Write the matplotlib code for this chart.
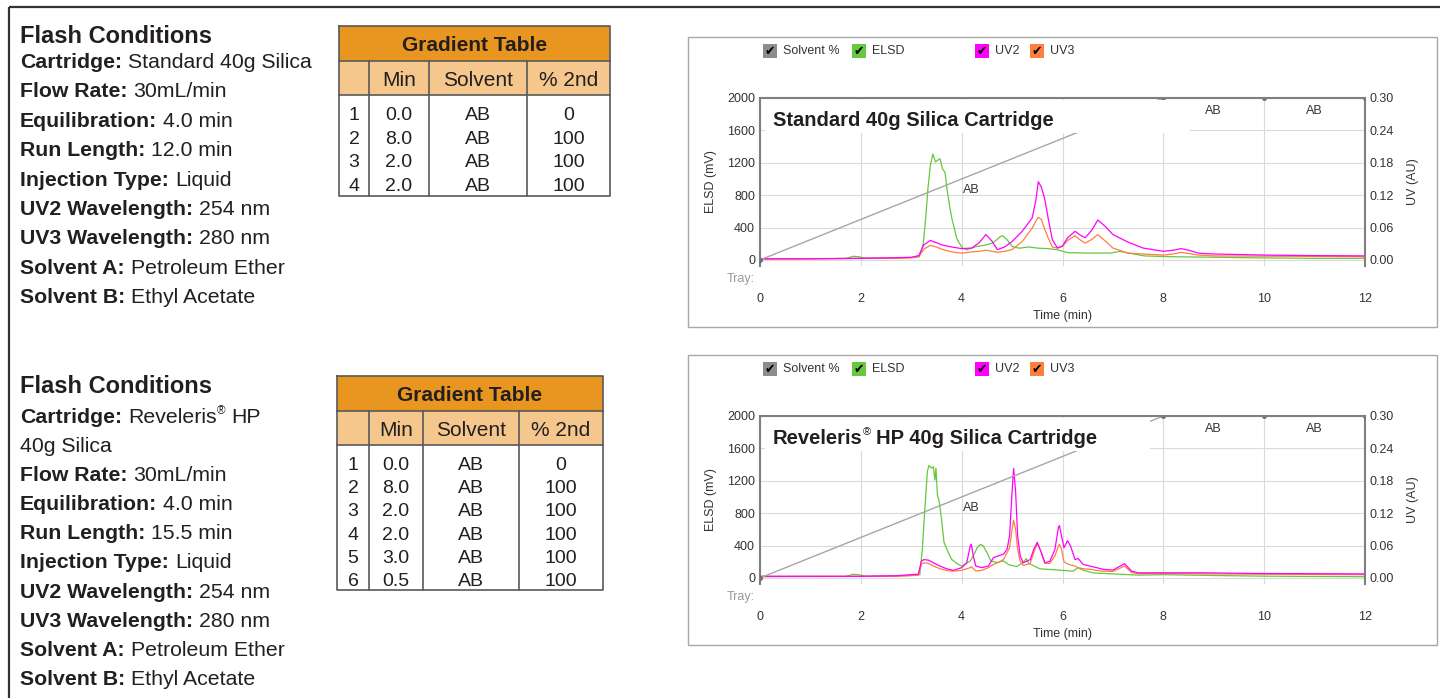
import matplotlib
matplotlib.use('Agg')
import matplotlib.pyplot as plt
from matplotlib.patches import Rectangle
import numpy as np

plt.rcParams['font.family'] = ['Liberation Sans', 'DejaVu Sans']

# ---- data ----
series_names = ['Solvent %', 'ELSD', 'UV2', 'UV3']
series_colors = ['#8c8c8c', '#66c83c', '#ff00ff', '#ff7f3f']

time_ticks = [0, 2, 4, 6, 8, 10, 12]
elsd_ticks = [0, 400, 800, 1200, 1600, 2000]
uv_ticks = [0.00, 0.06, 0.12, 0.18, 0.24, 0.30]

cond1 = [("Cartridge:", "Standard 40g Silica"), ("Flow Rate:", "30mL/min"),
         ("Equilibration:", "4.0 min"), ("Run Length:", "12.0 min"),
         ("Injection Type:", "Liquid"), ("UV2 Wavelength:", "254 nm"),
         ("UV3 Wavelength:", "280 nm"), ("Solvent A:", "Petroleum Ether"),
         ("Solvent B:", "Ethyl Acetate")]
cond2 = [("Cartridge:", "Reveleris® HP"), ("", "40g Silica"), ("Flow Rate:", "30mL/min"),
         ("Equilibration:", "4.0 min"), ("Run Length:", "15.5 min"),
         ("Injection Type:", "Liquid"), ("UV2 Wavelength:", "254 nm"),
         ("UV3 Wavelength:", "280 nm"), ("Solvent A:", "Petroleum Ether"),
         ("Solvent B:", "Ethyl Acetate")]

grad1_min = [0.0, 8.0, 2.0, 2.0]
grad1_solv = ['AB', 'AB', 'AB', 'AB']
grad1_pct = [0, 100, 100, 100]
grad2_min = [0.0, 8.0, 2.0, 2.0, 3.0, 0.5]
grad2_solv = ['AB', 'AB', 'AB', 'AB', 'AB', 'AB']
grad2_pct = [0, 100, 100, 100, 100, 100]

title1 = "Standard 40g Silica Cartridge"
title2 = "Reveleris® HP 40g Silica Cartridge"

# standard cartridge run
elsd1_t = [0, 1.7, 1.85, 1.95, 2.1, 2.6, 3.0, 3.16, 3.24, 3.29, 3.33, 3.38, 3.43, 3.48, 3.52, 3.57,
           3.62, 3.67, 3.71, 3.76, 3.81, 3.86, 3.9, 3.95, 4.02, 4.1, 4.29, 4.48, 4.62, 4.76, 4.81,
           4.9, 5.0, 5.14, 5.33, 5.52, 5.71, 5.9, 6.1, 6.48, 6.95, 7.14, 7.62, 8.1, 9.05, 10.0,
           10.95, 12.0]
elsd1_v = [15, 18, 45, 40, 22, 25, 28, 40, 210, 540, 875, 1170, 1310, 1210, 1230, 1250, 1125,
           1080, 875, 665, 500, 375, 270, 210, 145, 125, 165, 185, 210, 285, 300, 250, 165, 145,
           160, 145, 140, 125, 90, 85, 85, 105, 50, 40, 33, 25, 20, 20]
uv1_t = [0, 1.0, 2.0, 2.7, 3.0, 3.15, 3.25, 3.38, 3.5, 3.6, 3.8, 4.0, 4.2, 4.35, 4.48, 4.6, 4.71,
         4.85, 5.0, 5.2, 5.4, 5.47, 5.52, 5.58, 5.65, 5.72, 5.8, 5.9, 6.0, 6.1, 6.25, 6.35, 6.45,
         6.58, 6.7, 6.85, 7.0, 7.3, 7.6, 8.0, 8.2, 8.35, 8.5, 8.7, 9.0, 10.0, 11.0, 12.0]
uv2_1 = [0.002, 0.002, 0.003, 0.004, 0.005, 0.008, 0.028, 0.036, 0.032, 0.028, 0.024, 0.021,
         0.022, 0.032, 0.047, 0.035, 0.019, 0.024, 0.034, 0.053, 0.078, 0.110, 0.145, 0.135,
         0.112, 0.075, 0.037, 0.022, 0.026, 0.041, 0.053, 0.046, 0.041, 0.055, 0.074, 0.062,
         0.047, 0.033, 0.022, 0.016, 0.018, 0.021, 0.018, 0.0125, 0.011, 0.009, 0.008, 0.0075]
uv3_1 = [0.002, 0.002, 0.003, 0.003, 0.004, 0.006, 0.020, 0.027, 0.024, 0.020, 0.015, 0.0125,
         0.015, 0.016, 0.018, 0.016, 0.014, 0.016, 0.019, 0.034, 0.059, 0.072, 0.079, 0.075,
         0.056, 0.040, 0.024, 0.022, 0.025, 0.036, 0.045, 0.037, 0.031, 0.038, 0.047, 0.035,
         0.022, 0.0125, 0.011, 0.009, 0.011, 0.014, 0.012, 0.009, 0.0075, 0.007, 0.0065, 0.006]

# Reveleris HP run
elsd2_t = [0, 1.7, 1.85, 1.95, 2.1, 2.6, 3.0, 3.17, 3.22, 3.27, 3.32, 3.35, 3.4, 3.44, 3.47, 3.49,
           3.52, 3.55, 3.6, 3.65, 3.72, 3.8, 3.9, 4.0, 4.17, 4.23, 4.31, 4.37, 4.43, 4.5, 4.58,
           4.7, 4.83, 4.93, 5.09, 5.22, 5.28, 5.33, 5.55, 5.95, 6.21, 6.31, 6.41, 6.61, 7.0, 7.5,
           8.0, 8.5, 9.0, 10.0, 11.0, 12.0]
elsd2_v = [15, 18, 45, 40, 22, 25, 30, 40, 355, 855, 1313, 1390, 1355, 1375, 1210, 1355, 1020,
           960, 730, 440, 335, 230, 180, 145, 210, 270, 375, 415, 395, 315, 210, 190, 210, 165,
           140, 190, 240, 180, 113, 96, 83, 125, 96, 62, 50, 35, 40, 35, 30, 22, 18, 15]
uv2_t = [0, 1.0, 2.0, 2.7, 3.14, 3.2, 3.25, 3.34, 3.44, 3.57, 3.7, 3.83, 4.0, 4.1, 4.17, 4.19,
         4.23, 4.28, 4.4, 4.53, 4.63, 4.73, 4.83, 4.9, 4.95, 5.0, 5.03, 5.07, 5.11, 5.16, 5.22,
         5.36, 5.43, 5.5, 5.58, 5.65, 5.75, 5.85, 5.92, 5.94, 5.98, 6.03, 6.1, 6.16, 6.25, 6.31,
         6.41, 6.54, 6.68, 6.8, 7.0, 7.23, 7.37, 7.5, 8.1, 8.8, 9.8, 12.0]
uv2_2 = [0.003, 0.003, 0.003, 0.004, 0.007, 0.031, 0.034, 0.033, 0.028, 0.022, 0.017, 0.014,
         0.019, 0.028, 0.059, 0.0625, 0.041, 0.022, 0.019, 0.022, 0.0375, 0.041, 0.044, 0.053,
         0.078, 0.160, 0.203, 0.160, 0.078, 0.041, 0.028, 0.034, 0.053, 0.066, 0.047, 0.028,
         0.031, 0.053, 0.094, 0.097, 0.078, 0.056, 0.069, 0.059, 0.034, 0.036, 0.025, 0.022,
         0.019, 0.016, 0.0145, 0.0265, 0.0126, 0.0095, 0.0095, 0.0095, 0.0082, 0.0075]
uv3_2 = [0.003, 0.003, 0.003, 0.003, 0.005, 0.025, 0.028, 0.027, 0.022, 0.017, 0.014, 0.0125,
         0.014, 0.017, 0.019, 0.021, 0.017, 0.013, 0.014, 0.019, 0.025, 0.029, 0.034, 0.047,
         0.056, 0.090, 0.107, 0.090, 0.053, 0.031, 0.023, 0.027, 0.047, 0.064, 0.047, 0.027,
         0.027, 0.041, 0.059, 0.0625, 0.053, 0.030, 0.026, 0.024, 0.022, 0.019, 0.017, 0.016,
         0.014, 0.0125, 0.012, 0.022, 0.010, 0.008, 0.008, 0.0075, 0.007, 0.006]

# ---- figure ----
W, H = 1440, 698
PX = 100 / 72
INK = '#231f20'
GREY_TXT = '#333333'
SPINE = '#7f7f7f'

fig = plt.figure(figsize=(W / 100, H / 100), dpi=100)
renderer = fig.canvas.get_renderer()

# overlay in pixel coordinates for the page furniture
ov = fig.add_axes([0, 0, 1, 1], zorder=10)
ov.set_xlim(0, W)
ov.set_ylim(H, 0)
ov.axis('off')
ov.patch.set_visible(False)


def put_runs(x, y, parts, color=INK, zorder=6):
    for s, size, weight in parts:
        for k, piece in enumerate(s.split('®')):
            if k > 0:
                t = ov.text(x, y - 0.42 * size * PX, '®', fontsize=size * 0.55,
                            ha='left', va='baseline', color=color, zorder=zorder)
                x += t.get_window_extent(renderer).width
            lead = len(piece) - len(piece.lstrip(' '))
            trail = len(piece) - len(piece.rstrip(' '))
            core = piece.strip(' ')
            x += lead * 0.278 * size * PX
            if core:
                t = ov.text(x, y, core, fontsize=size, fontweight=weight,
                            ha='left', va='baseline', color=color, zorder=zorder)
                x += t.get_window_extent(renderer).width
            x += trail * 0.278 * size * PX
    return x


# page frame
ov.plot([9, W], [7, 7], color='#333333', lw=1.6, solid_capstyle='butt')
ov.plot([9, 9], [7, H], color='#333333', lw=1.6, solid_capstyle='butt')


def draw_conditions(head_y, first_y, step, rows):
    put_runs(20, head_y, [("Flash Conditions", 17, 'bold')])
    for i, (lab, val) in enumerate(rows):
        parts = []
        if lab:
            parts.append((lab + ' ', 15.3, 'bold'))
        parts.append((val, 15.3, 'normal'))
        put_runs(20, first_y + i * step, parts)


draw_conditions(43, 68, 29.4, cond1)
draw_conditions(393, 423, 29.1, cond2)


def draw_table(edges, top, head_h, sub_h, bottom, mins, solv, pcts, row0, row_dy):
    x0, x4 = edges[0], edges[-1]
    ov.add_patch(Rectangle((x0, top), x4 - x0, head_h, facecolor='#e8961f', edgecolor='none'))
    ov.add_patch(Rectangle((x0, top + head_h), x4 - x0, sub_h, facecolor='#f6c78d',
                           edgecolor='none'))
    bc = '#58595b'
    ov.plot([x0, x4, x4, x0, x0], [top, top, bottom, bottom, top], color=bc, lw=1.2)
    ov.plot([x0, x4], [top + head_h] * 2, color=bc, lw=1.2)
    ov.plot([x0, x4], [top + head_h + sub_h] * 2, color=bc, lw=1.2)
    for xe in edges[1:-1]:
        ov.plot([xe, xe], [top + head_h, bottom], color=bc, lw=1.2)
    ov.text((x0 + x4) / 2, top + head_h / 2 + 7.5, "Gradient Table", fontsize=15,
            fontweight='bold', ha='center', va='baseline', color=INK)
    centers = [(edges[i] + edges[i + 1]) / 2 for i in range(4)]
    for c, lab in zip(centers, ["", "Min", "Solvent", "% 2nd"]):
        ov.text(c, top + head_h + sub_h / 2 + 7.5, lab, fontsize=15, ha='center',
                va='baseline', color=INK)
    for i in range(len(mins)):
        y = row0 + i * row_dy
        cells = [str(i + 1), f"{mins[i]:.1f}", solv[i], str(pcts[i])]
        for c, s in zip(centers, cells):
            ov.text(c, y, s, fontsize=14, ha='center', va='baseline', color=INK)


draw_table([339, 369, 429, 527, 610], 26, 35, 34, 196, grad1_min, grad1_solv, grad1_pct,
           120, 23.7)
draw_table([337, 369, 423, 519, 603], 376, 35, 34, 590, grad2_min, grad2_solv, grad2_pct,
           470, 23.2)


def draw_chart(top, elsd_t, elsd_v, uv_t, uv2_v, uv3_v, g_min, g_pct, title, box_right):
    h = 168
    # frame + legend + tray
    ov.add_patch(Rectangle((688, top - 61), 749, 290, fill=False, edgecolor='#a8a8a8', lw=1))
    ly = top - 47
    for bx, name, col in zip([763, 852, 975, 1030], series_names, series_colors):
        ov.add_patch(Rectangle((bx, ly - 7), 14, 14, facecolor=col, edgecolor='none'))
        ov.text(bx + 7, ly + 0.5, '✔', fontsize=9, family='DejaVu Sans', ha='center',
                va='center', color='black')
        ov.text(bx + 20, ly, name, fontsize=9, ha='left', va='center', color=GREY_TXT)
    ov.text(755, top + 181, 'Tray:', fontsize=9, ha='right', va='center', color='#999999')
    # title with its white box
    ov.add_patch(Rectangle((765, top + 2), box_right - 765, 33, facecolor='white',
                           edgecolor='none', zorder=4))
    put_runs(773, top + 28, [(title, 14.5, 'bold')])

    ax = fig.add_axes([760 / W, (H - top - h) / H, 605 / W, h / H])
    ax.set_xlim(0, 12)
    ax.set_ylim(-75, 2000)
    ax.set_xticks(time_ticks)
    ax.set_yticks(elsd_ticks)
    ax.grid(True, color='#dadada', lw=0.8)
    ax.set_axisbelow(True)
    ax.tick_params(length=0, labelsize=9, labelcolor=GREY_TXT)
    ax.tick_params(axis='x', pad=19.5)
    ax.tick_params(axis='y', pad=3.5)
    for side in ['top', 'right', 'bottom']:
        ax.spines[side].set_visible(False)
    ax.spines['left'].set_color(SPINE)
    ax.spines['left'].set_linewidth(1.5)
    ax.plot(elsd_t, elsd_v, color=series_colors[1], lw=0.9)
    ax.set_xlabel('Time (min)', fontsize=9, color=GREY_TXT)
    ax.xaxis.set_label_coords(0.5, -(310 - 266) / h)
    ax.set_ylabel('ELSD (mV)', fontsize=9, color=GREY_TXT)
    ax.yaxis.set_label_coords(-0.071, 0.5)

    ax_uv = ax.twinx()
    ax_uv.set_ylim(-75 / 2000 * 0.3, 0.3)
    ax_uv.set_yticks(uv_ticks)
    ax_uv.set_yticklabels([f"{u:.2f}" for u in uv_ticks])
    ax_uv.tick_params(length=0, labelsize=9, labelcolor=GREY_TXT, pad=3.5)
    for side in ['top', 'left', 'bottom']:
        ax_uv.spines[side].set_visible(False)
    ax_uv.spines['right'].set_color(SPINE)
    ax_uv.spines['right'].set_linewidth(1.5)
    ax_uv.plot(uv_t, uv3_v, color=series_colors[3], lw=0.9)
    ax_uv.plot(uv_t, uv2_v, color=series_colors[2], lw=0.9)
    ax_uv.set_ylabel('UV (AU)', fontsize=9, color=GREY_TXT)
    ax_uv.yaxis.set_label_coords(1.07, 0.5)

    ax_s = ax.twinx()
    ax_s.set_ylim(-75 / 20, 100)
    ax_s.set_yticks([])
    for side in ['left', 'right', 'bottom']:
        ax_s.spines[side].set_visible(False)
    ax_s.spines['top'].set_color(SPINE)
    ax_s.spines['top'].set_linewidth(1.5)
    t_s = np.cumsum(g_min)
    ax_s.plot(t_s, g_pct, color='#a6a6a6', lw=1, marker='o', ms=2.5,
              mfc='#6f6f6f', mec='#6f6f6f')
    for i in range(len(t_s) - 1):
        if t_s[i] >= 12:
            continue
        tm = (t_s[i] + t_s[i + 1]) / 2
        pm = (g_pct[i] + g_pct[i + 1]) / 2
        off = (10, -11) if g_pct[i] != g_pct[i + 1] else (0, -13)
        ax_s.annotate('AB', (tm, pm), xytext=off, textcoords='offset pixels', ha='center',
                      va='center', fontsize=9, color=GREY_TXT)


draw_chart(98, elsd1_t, elsd1_v, uv1_t, uv2_1, uv3_1, grad1_min, grad1_pct, title1, 1190)
draw_chart(416, elsd2_t, elsd2_v, uv2_t, uv2_2, uv3_2, grad2_min, grad2_pct, title2, 1150)

fig.savefig('out.png', dpi=100)
